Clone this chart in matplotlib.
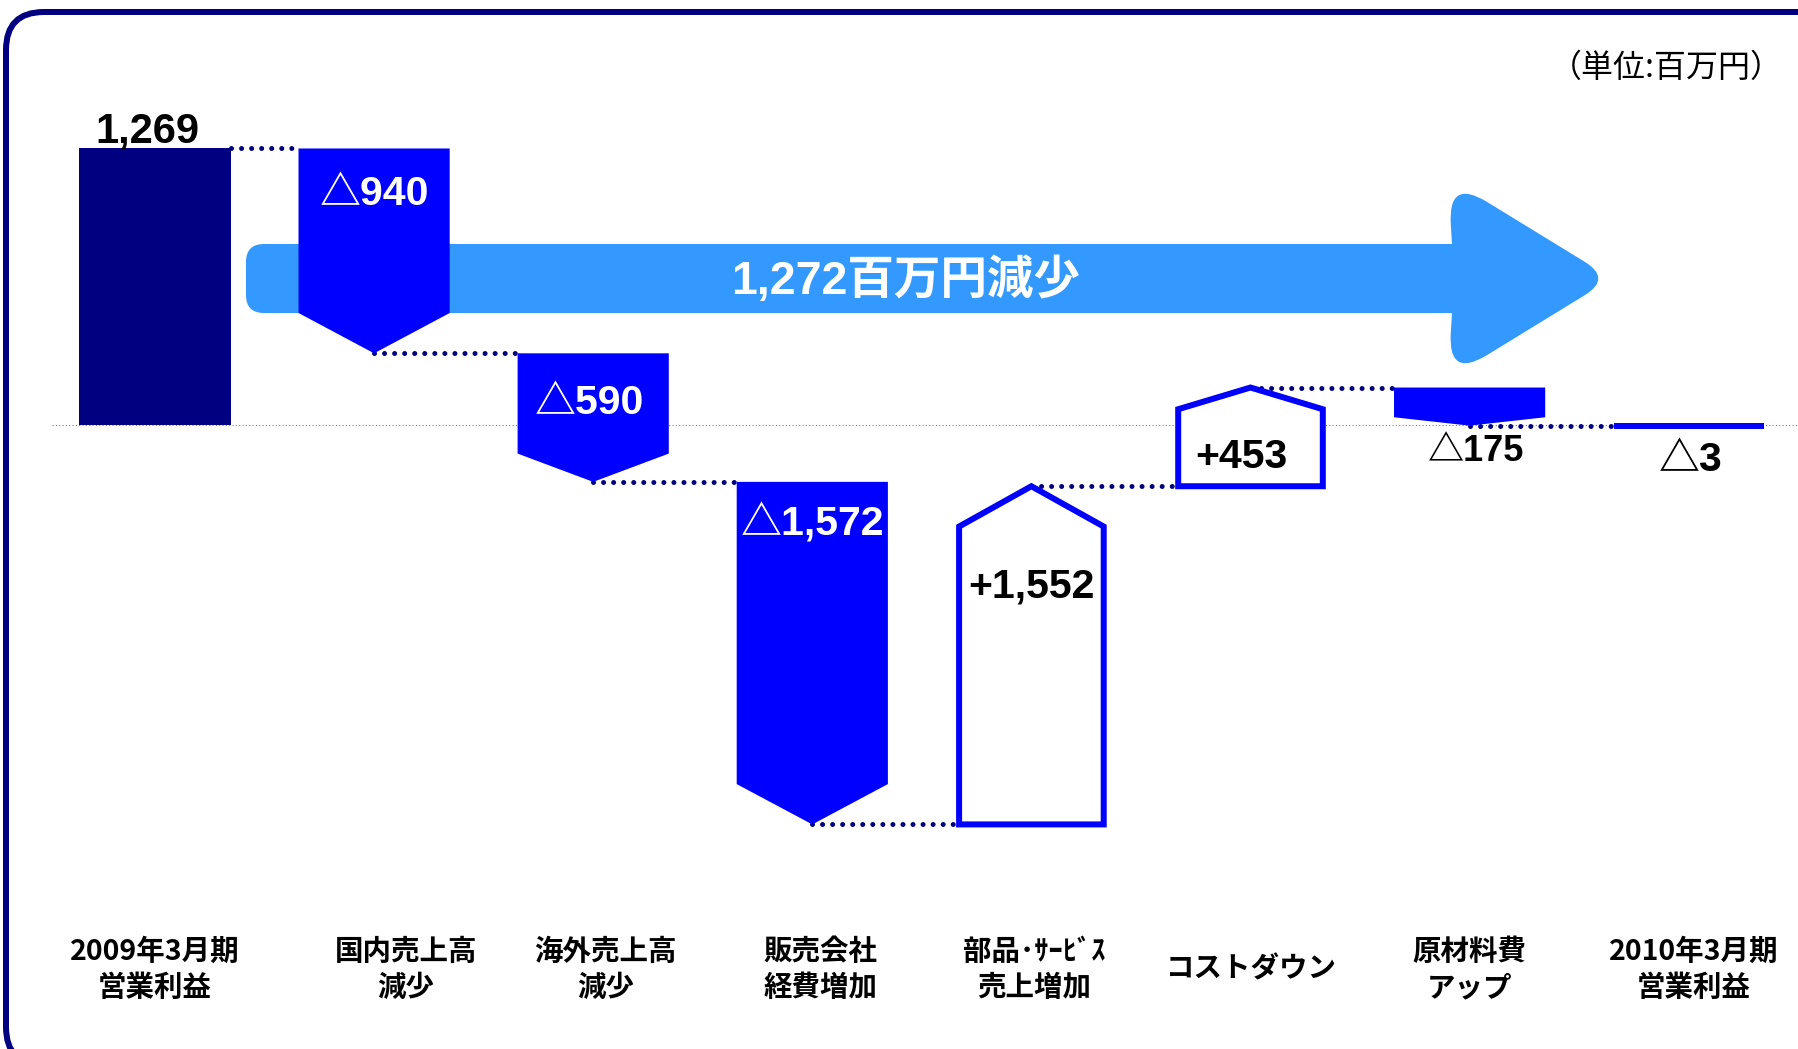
import matplotlib
matplotlib.use('Agg')
import matplotlib.pyplot as plt
import numpy as np
from matplotlib.patches import Polygon, Rectangle, FancyBboxPatch, PathPatch
from matplotlib.path import Path
from matplotlib.transforms import Affine2D, blended_transform_factory

# ---------------- data ----------------
categories = ["2009年3月期\n営業利益", "国内売上高\n減少", "海外売上高\n減少", "販売会社\n経費増加",
              "部品･ｻｰﾋﾞｽ\n売上増加", "コストダウン", "原材料費\nアップ", "2010年3月期\n営業利益"]
start_profit = 1269
changes = [-940, -590, -1572, 1552, 453, -175]
end_profit = -3
value_labels = ["1,269", "△940", "△590", "△1,572", "+1,552", "+453", "△175", "△3"]
total_change_label = "1,272百万円減少"
unit_label = "（単位:百万円）"

# ---------------- styles ----------------
NAVY = "#000080"
BLUE = "#0000FF"
LIGHT = "#3399FF"
NUM_FONT = ["Liberation Sans", "Noto Sans CJK JP"]
JP_FONT = ["Noto Sans CJK JP", "DejaVu Sans"]
W, H = 1798, 1049
PXPT = 0.72          # points per pixel at dpi 100
BW = 0.69            # bar width (category units)

fig = plt.figure(figsize=(W / 100, H / 100), dpi=100)
ax = fig.add_axes([0, 0, 1, 1])
SCALE = 0.2179       # px per unit
Y0 = 425             # px row of zero
ax.set_xlim(-155 / 219.1, (W - 155) / 219.1)
ax.set_ylim((Y0 - H) / SCALE, Y0 / SCALE)
ax.axis('off')

# pixel coordinates measured from the top-left corner
PX = Affine2D().scale(1 / W, -1 / H).translate(0, 1) + fig.transFigure
# pixel coordinates measured from the bottom-left corner
PXB = Affine2D().scale(1 / W, 1 / H) + fig.transFigure

# ---------------- waterfall levels ----------------
starts, ends = [], []
run = start_profit
for c in changes:
    starts.append(run)
    run += c
    ends.append(run)

# zero line
ax.plot([-0.47, 7.6], [0, 0], color="#808080", lw=0.8, ls=(0, (1, 2)), zorder=1)

# big arrow (rounded polygon, pixel coordinates)
def rounded_path(pts, radii):
    verts, codes = [], []
    n = len(pts)
    for k in range(n):
        P = np.array(pts[k], float)
        A = np.array(pts[k - 1], float)
        Bp = np.array(pts[(k + 1) % n], float)
        r = radii[k]
        if r == 0:
            verts.append(P); codes.append(Path.LINETO)
        else:
            d1 = (A - P) / np.linalg.norm(A - P)
            d2 = (Bp - P) / np.linalg.norm(Bp - P)
            verts += [P + d1 * r, P, P + d2 * r]
            codes += [Path.LINETO, Path.CURVE3, Path.CURVE3]
    codes[0] = Path.MOVETO
    verts.append(verts[0]); codes.append(Path.CLOSEPOLY)
    return Path(verts, codes)

arrow_pts = [(246, 244), (1452, 244), (1448, 178), (1612, 278.5), (1448, 379), (1452, 313), (246, 313)]
arrow_r = [18, 0, 46, 32, 46, 0, 18]
ax.add_patch(PathPatch(rounded_path(arrow_pts, arrow_r), transform=PX, fc=LIGHT, ec='none', zorder=2))
ax.text(906, 281, total_change_label, transform=PX, ha='center', va='center', color='white',
        fontsize=33.5, fontweight='bold', family=NUM_FONT, zorder=3)

# connectors
def connector(x0, x1, y):
    ax.plot([x0, x1], [y, y], color=NAVY, lw=3.6, ls=(0, (0.01, 2.0)),
            dash_capstyle='round', zorder=3)

connector(0 + BW / 2, 1 - BW / 2, start_profit)
for i, e in enumerate(ends):
    connector(i + 1, i + 2 - BW / 2, e)

# first bar
ax.add_patch(Rectangle((0 - BW / 2, 0), BW, start_profit, fc=NAVY, ec='none', zorder=4))

# change bars (pentagon arrows)
for k, (s, e, c) in enumerate(zip(starts, ends, changes)):
    x = k + 1
    head = min(185, 0.22 * abs(c))
    sign = 1 if c > 0 else -1
    sh = e - sign * head
    if c < 0:
        w = BW
        pts = [(x - w / 2, s), (x + w / 2, s), (x + w / 2, sh), (x, e), (x - w / 2, sh)]
        ax.add_patch(Polygon(pts, closed=True, fc=BLUE, ec='none', zorder=4))
    else:
        w = BW - 0.03
        pts = [(x - w / 2, s), (x + w / 2, s), (x + w / 2, sh), (x, e), (x - w / 2, sh)]
        ax.add_patch(Polygon(pts, closed=True, fc='white', ec=BLUE, lw=6 * PXPT,
                             joinstyle='miter', zorder=4))

# final bar
ax.add_patch(Rectangle((7 - (BW - 0.03) / 2, 0), BW - 0.03, end_profit, fc=BLUE, ec=BLUE,
                       lw=5 * PXPT, zorder=4))

# value labels: (dx px, dy px, color, size, va)
anchors = [start_profit, starts[0], starts[1], starts[2], ends[3], starts[4], ends[5], end_profit]
lab_style = [(-8, 6, 'black', 30, 'baseline'),
             (0, -46, 'white', 29.5, 'center'),
             (-4, -50, 'white', 29.5, 'center'),
             (0, -42, 'white', 29.5, 'center'),
             (0, -100, 'black', 29.5, 'center'),
             (-9, 29, 'black', 29.5, 'center'),
             (7, -26, 'black', 26, 'center'),
             (2, -34, 'black', 29.5, 'center')]
for i, (txt, a, st) in enumerate(zip(value_labels, anchors, lab_style)):
    dx, dy, col, fs, va = st
    ax.annotate(txt, xy=(i, a), xytext=(dx * PXPT, dy * PXPT), textcoords='offset points',
                ha='center', va=va, color=col, fontsize=fs, fontweight='bold',
                family=NUM_FONT, zorder=6)

# category labels
cat_dx = [0, 32, 12, 8, 3, 1, 0, 5]
btr = blended_transform_factory(ax.transData, PX)
for i, (cat, dx) in enumerate(zip(categories, cat_dx)):
    lines = cat.split("\n")
    ys = [969] if len(lines) == 1 else [952, 988]
    for ln, yy in zip(lines, ys):
        ax.annotate(ln, xy=(i, yy), xycoords=btr, xytext=(dx * PXPT, 0), textcoords='offset points',
                    ha='center', va='center', fontsize=20.5, fontweight='bold',
                    family=JP_FONT, color='black')

# unit label
ax.text(1783, 68, unit_label, transform=PX, ha='right', va='center', fontsize=23,
        family=JP_FONT, color='black')

# rounded frame (bottom and right edges run off the picture)
frame = FancyBboxPatch((6, -16), 1840, H - 12 + 16, boxstyle="round,pad=0,rounding_size=38",
                       transform=PXB, fc='none', ec=NAVY, lw=6 * PXPT, clip_on=False)
fig.add_artist(frame)

fig.savefig("out.png", dpi=100)
